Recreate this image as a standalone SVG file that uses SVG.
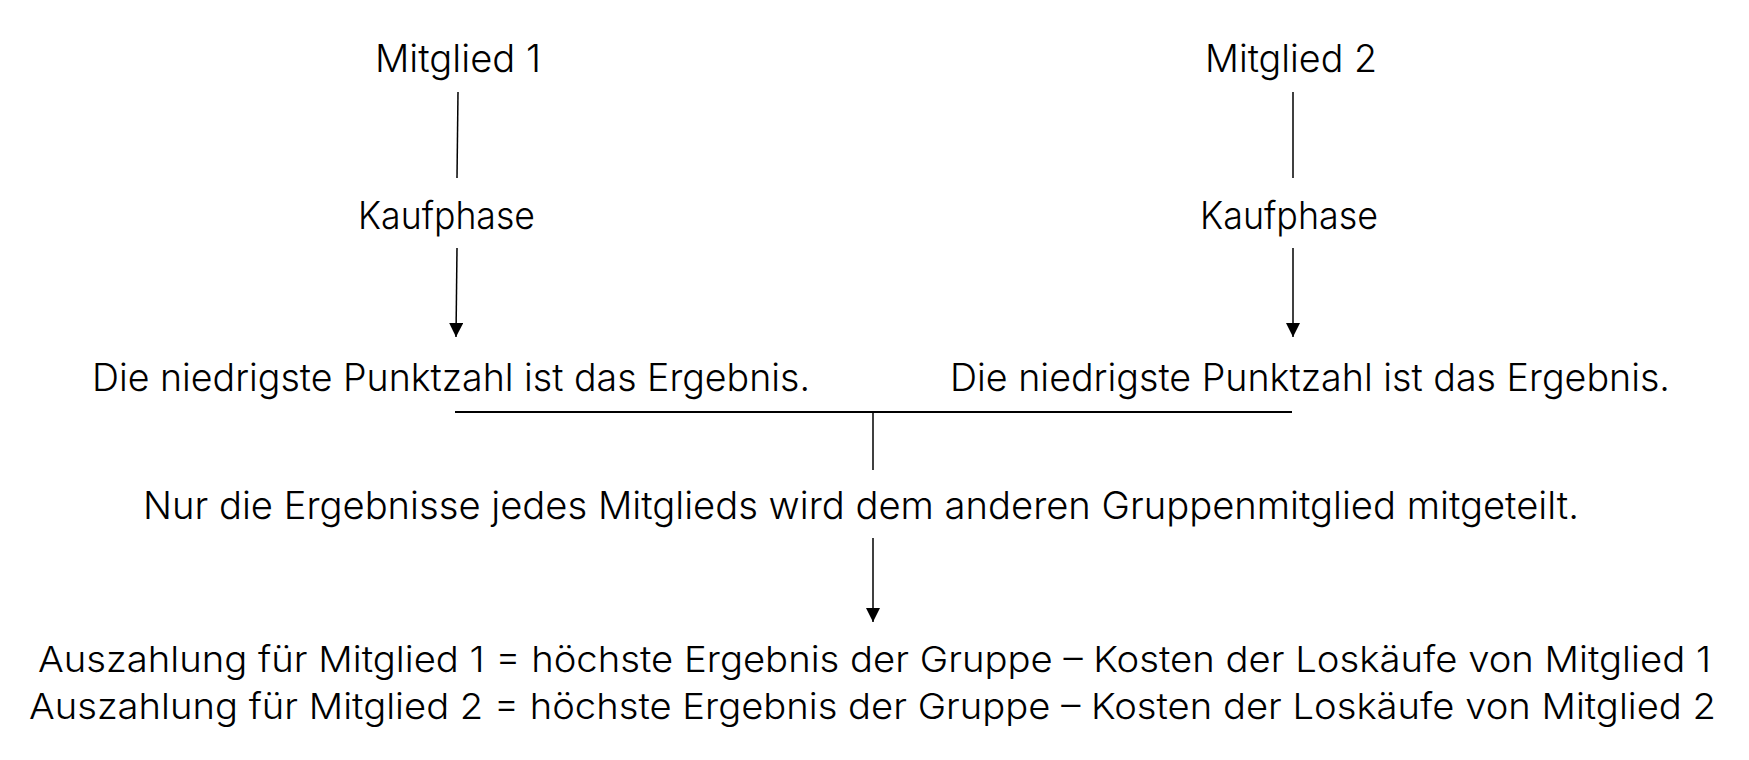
<svg xmlns="http://www.w3.org/2000/svg" width="1749" height="760" viewBox="0 0 1749 760">
<defs>
<style>
.t{font-family:"Inter","Lato","Liberation Sans",sans-serif;font-weight:300;font-size:38px;fill:#000;}
.s{font-size:36px;}
.c{stroke:#000;stroke-width:1.5;fill:none;}
</style>
<marker id="ah" viewBox="0 0 14 14" markerWidth="14" markerHeight="14" refX="14" refY="7" orient="auto" markerUnits="userSpaceOnUse">
<path d="M0,0 L14,7 L0,14 Z" fill="#000"/>
</marker>
</defs>
<rect width="1749" height="760" fill="#fff"/>
<g id="m1"><text class="t" x="375" y="72" textLength="166" lengthAdjust="spacingAndGlyphs">Mitglied 1</text></g>
<g id="m2"><text class="t" x="1205" y="72" textLength="172" lengthAdjust="spacingAndGlyphs">Mitglied 2</text></g>
<g id="k1"><text class="t" x="358" y="229" textLength="177" lengthAdjust="spacingAndGlyphs">Kaufphase</text></g>
<g id="k2"><text class="t" x="1200" y="229" textLength="178" lengthAdjust="spacingAndGlyphs">Kaufphase</text></g>
<g id="e1"><text class="t" x="92" y="391" textLength="718" lengthAdjust="spacingAndGlyphs">Die niedrigste Punktzahl ist das Ergebnis.</text></g>
<g id="e2"><text class="t" x="950" y="391" textLength="720" lengthAdjust="spacingAndGlyphs">Die niedrigste Punktzahl ist das Ergebnis.</text></g>
<g id="n"><text class="t" x="143" y="519" textLength="1436" lengthAdjust="spacingAndGlyphs">Nur die Ergebnisse jedes Mitglieds wird dem anderen Gruppenmitglied mitgeteilt.</text></g>
<g id="a"><text class="t s" x="38" y="672" textLength="1673" lengthAdjust="spacingAndGlyphs">Auszahlung für Mitglied 1 = höchste Ergebnis der Gruppe – Kosten der Loskäufe von Mitglied 1</text>
<text class="t s" x="29" y="719" textLength="1687" lengthAdjust="spacingAndGlyphs">Auszahlung für Mitglied 2 = höchste Ergebnis der Gruppe – Kosten der Loskäufe von Mitglied 2</text></g>
<g id="connectors">
<line class="c" x1="458" y1="92" x2="457" y2="178"/>
<line class="c" x1="1293" y1="92" x2="1293" y2="178"/>
<line class="c" x1="457" y1="248" x2="456" y2="337" marker-end="url(#ah)"/>
<line class="c" x1="1293" y1="248" x2="1293" y2="337" marker-end="url(#ah)"/>
<line class="c" x1="455" y1="412" x2="1292" y2="412" style="stroke-width:2"/>
<line class="c" x1="873" y1="412" x2="873" y2="470"/>
<line class="c" x1="873" y1="538" x2="873" y2="622" marker-end="url(#ah)"/>
</g>
</svg>
